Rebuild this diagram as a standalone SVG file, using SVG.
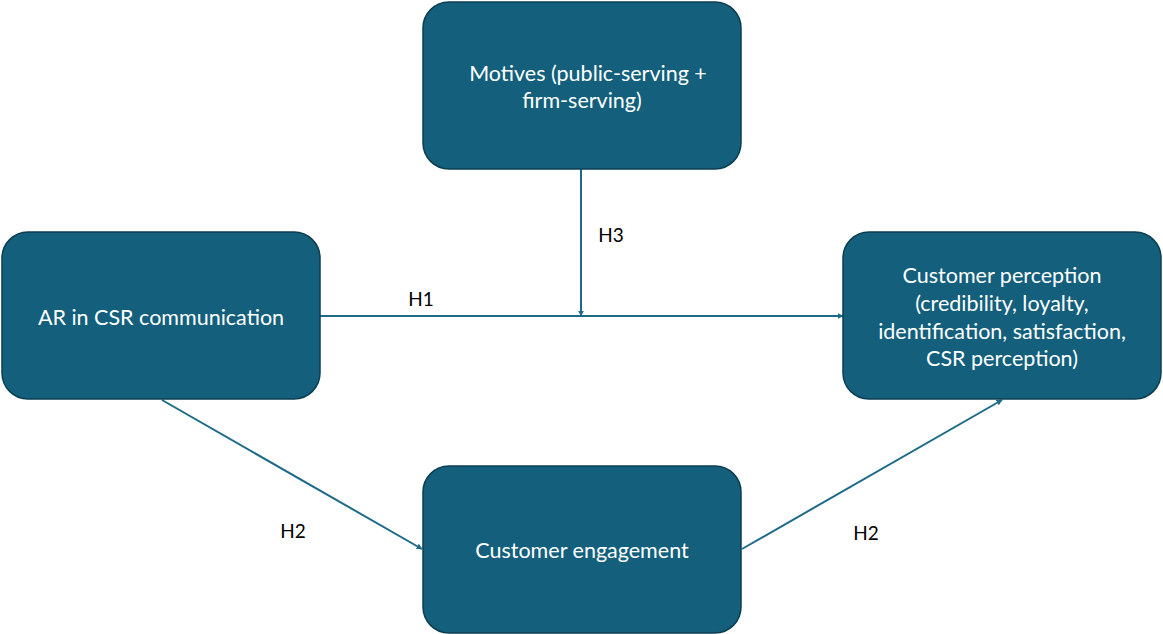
<svg xmlns="http://www.w3.org/2000/svg" width="1163" height="634" viewBox="0 0 1163 634">
  <style>
    .box { fill: #135f7c; stroke: #0c3e52; stroke-width: 1.5; }
    .lbl { font-family: Lato, "Open Sans", sans-serif; font-size: 21.5px; fill: #ffffff; text-anchor: middle; dominant-baseline: central; }
    .hyp { font-family: Lato, "Liberation Sans", sans-serif; font-size: 19px; fill: #000000; text-anchor: middle; dominant-baseline: central; }
    .edge { stroke: #1d6a89; stroke-width: 2; fill: none; marker-end: url(#arrow); }
  </style>
  <defs>
    <marker id="arrow" viewBox="0 0 10 10" refX="9" refY="5" markerWidth="6" markerHeight="6" markerUnits="userSpaceOnUse" orient="auto">
      <path d="M0,0 L10,5 L0,10 z" fill="#1d6a89"/>
    </marker>
  </defs>
  <rect width="1163" height="634" fill="#ffffff"/>

  <g id="connectors">
    <line class="edge" x1="320" y1="316" x2="843" y2="316"/>
    <line class="edge" x1="581" y1="169" x2="581" y2="316"/>
    <line class="edge" x1="162" y1="400" x2="422" y2="549"/>
    <line class="edge" x1="742" y1="549" x2="1002" y2="400"/>
    <text class="hyp" x="421" y="298">H1</text>
    <text class="hyp" x="611" y="234">H3</text>
    <text class="hyp" x="293" y="530">H2</text>
    <text class="hyp" x="866" y="532">H2</text>
  </g>

  <g id="motives">
    <rect class="box" x="423" y="2" width="318" height="167" rx="26"/>
    <text class="lbl" x="588" y="73">Motives (public-serving +</text>
    <text class="lbl" x="582" y="100">firm-serving)</text>
  </g>

  <g id="ar-csr">
    <rect class="box" x="2" y="232" width="318" height="167" rx="26"/>
    <text class="lbl" x="161" y="317">AR in CSR communication</text>
  </g>

  <g id="customer-perception">
    <rect class="box" x="843" y="232" width="318" height="167" rx="26"/>
    <text class="lbl" x="1002" y="275">Customer perception</text>
    <text class="lbl" x="1002" y="303">(credibility, loyalty,</text>
    <text class="lbl" x="1002" y="331">identification, satisfaction,</text>
    <text class="lbl" x="1002" y="358">CSR perception)</text>
  </g>

  <g id="customer-engagement">
    <rect class="box" x="423" y="466" width="318" height="167" rx="26"/>
    <text class="lbl" x="582" y="550">Customer engagement</text>
  </g>
</svg>
